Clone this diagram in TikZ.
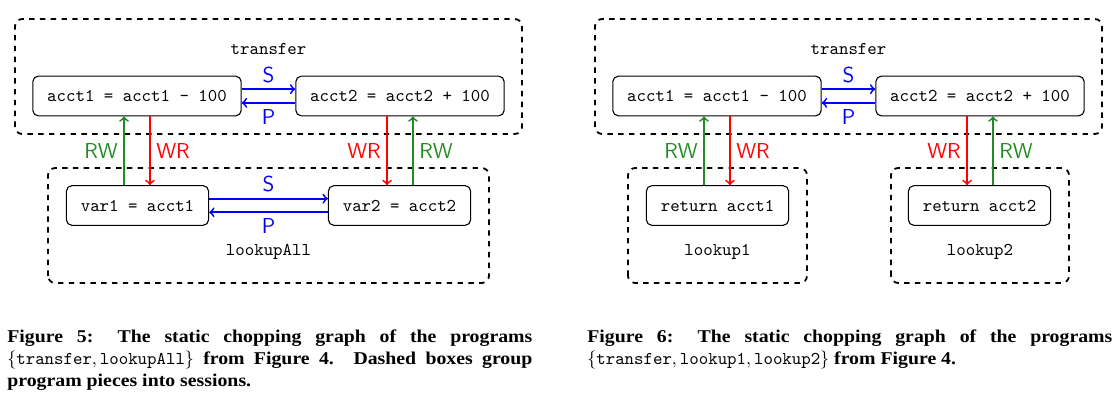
\documentclass[tikz,border=0pt]{standalone}
\usepackage{fontspec}
\newfontfamily\capfont[FakeStretch=1.1]{Liberation Serif}
\usepackage{tikz}
\usetikzlibrary{arrows,positioning}
\usetikzlibrary{calc}
\definecolor{rwgreen}{RGB}{34,139,34}

\begin{document}
\begin{tikzpicture}[x=0.5556pt,y=0.5556pt,
  stmt/.style={draw,semithick,rounded corners=3pt,font=\ttfamily,inner xsep=8pt,inner ysep=0pt,minimum height=22pt},
  session/.style={draw,dashed,line width=1pt,rounded corners=4pt},
  sname/.style={font=\ttfamily},
  lbl/.style={font=\sffamily\large,inner sep=3pt},
  so/.style={->,line width=1pt,blue},
  wr/.style={->,line width=1pt,red},
  rw/.style={->,line width=1pt,rwgreen},
  figcap/.style={text width=291.7pt,align=justify,inner sep=0pt,anchor=north west,
    font=\capfont\bfseries\fontsize{10pt}{12.2pt}\selectfont}]
\def\ys{3.8pt}
\def\xs{7.2pt}
\useasboundingbox (0,0) rectangle (1120,407);

% Figure 5
\draw[session] (15,273) rectangle (522,388);
\draw[session] (48,124) rectangle (489,239);
\node[sname] (transferA) at (268.5,358) {transfer};
\node[sname] (lookupAll) at (268.5,155) {lookupAll};
\node[stmt] (acct1) at (137,311) {acct1 = acct1 - 100};
\node[stmt] (acct2) at (400,311) {acct2 = acct2 + 100};
\node[stmt] (var1) at (137.5,201.5) {var1 = acct1};
\node[stmt] (var2) at (399.5,201.5) {var2 = acct2};
\draw[so] ([yshift=\ys]acct1.east) -- ([yshift=\ys]acct2.west) node[lbl,midway,above] {S};
\draw[so] ([yshift=-\ys]acct2.west) -- ([yshift=-\ys]acct1.east) node[lbl,midway,below] {P};
\draw[so] ([yshift=\ys]var1.east) -- ([yshift=\ys]var2.west) node[lbl,midway,above] {S};
\draw[so] ([yshift=-\ys]var2.west) -- ([yshift=-\ys]var1.east) node[lbl,midway,below] {P};
\draw[rw] ([xshift=-\xs]acct1.south |- var1.north) -- ([xshift=-\xs]acct1.south) node[lbl,midway,left] {RW};
\draw[wr] ([xshift=\xs]acct1.south) -- ([xshift=\xs]acct1.south |- var1.north) node[lbl,midway,right] {WR};
\draw[wr] ([xshift=-\xs]acct2.south) -- ([xshift=-\xs]acct2.south |- var2.north) node[lbl,midway,left] {WR};
\draw[rw] ([xshift=\xs]acct2.south |- var2.north) -- ([xshift=\xs]acct2.south) node[lbl,midway,right] {RW};

% Figure 6
\draw[session] (595,273) rectangle (1102,388);
\draw[session] (628,124) rectangle (807,239);
\draw[session] (891,124) rectangle (1069,239);
\node[sname] (transferB) at (848.5,358) {transfer};
\node[sname] (lookup1) at (717.5,155) {lookup1};
\node[sname] (lookup2) at (980,155) {lookup2};
\node[stmt] (acct1b) at (717,311) {acct1 = acct1 - 100};
\node[stmt] (acct2b) at (980,311) {acct2 = acct2 + 100};
\node[stmt] (ret1) at (717.5,201.5) {return acct1};
\node[stmt] (ret2) at (979.5,201.5) {return acct2};
\draw[so] ([yshift=\ys]acct1b.east) -- ([yshift=\ys]acct2b.west) node[lbl,midway,above] {S};
\draw[so] ([yshift=-\ys]acct2b.west) -- ([yshift=-\ys]acct1b.east) node[lbl,midway,below] {P};
\draw[rw] ([xshift=-\xs]acct1b.south |- ret1.north) -- ([xshift=-\xs]acct1b.south) node[lbl,midway,left] {RW};
\draw[wr] ([xshift=\xs]acct1b.south) -- ([xshift=\xs]acct1b.south |- ret1.north) node[lbl,midway,right] {WR};
\draw[wr] ([xshift=-\xs]acct2b.south) -- ([xshift=-\xs]acct2b.south |- ret2.north) node[lbl,midway,left] {WR};
\draw[rw] ([xshift=\xs]acct2b.south |- ret2.north) -- ([xshift=\xs]acct2b.south) node[lbl,midway,right] {RW};

% captions
\node[figcap] (cap5) at (7,77.5) {Figure 5: The static chopping graph of the programs\linebreak
  $\{\mathtt{transfer}, \mathtt{lookupAll}\}$ from Figure 4. Dashed boxes group\linebreak
  program pieces into sessions.};
\node[figcap] (cap6) at (587,77.5) {Figure 6: The static chopping graph of the programs\linebreak
  $\{\mathtt{transfer}, \mathtt{lookup1}, \mathtt{lookup2}\}$ from Figure 4.};
\end{tikzpicture}
\end{document}
